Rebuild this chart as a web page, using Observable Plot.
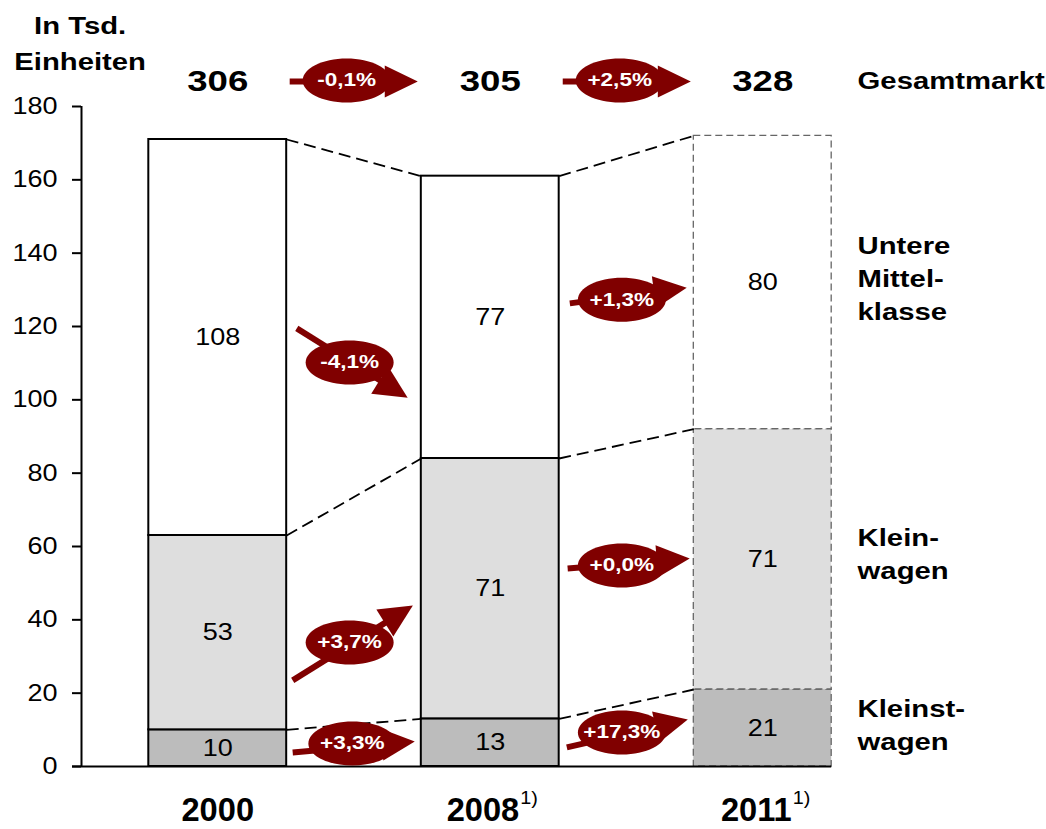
<!DOCTYPE html>
<html>
<head>
<meta charset="utf-8">
<script src="https://cdn.jsdelivr.net/npm/d3@7"></script>
<script src="https://cdn.jsdelivr.net/npm/@observablehq/plot@0.6"></script>
<style>
  body { margin: 0; background: #fff; }
  #chart svg { display: block; }
</style>
</head>
<body>
<div id="chart"></div>
<script>
// ---------------- data ----------------
const years = ["2000", "2008", "2011"];
const footnotes = ["", "1)", "1)"];
const segments = ["Kleinstwagen", "Kleinwagen", "Untere Mittelklasse"];
const segmentLabels = ["Kleinst-\nwagen", "Klein-\nwagen", "Untere\nMittel-\nklasse"];
const kleinstwagen = [10, 13, 21];
const kleinwagen = [53, 71, 71];
const untereMittelklasse = [108, 77, 80];
const gesamtmarkt = [306, 305, 328];
const yTicks = [0, 20, 40, 60, 80, 100, 120, 140, 160, 180];
const unitLabel = "In Tsd.\nEinheiten";
const totalLabel = "Gesamtmarkt";
// growth arrows (annotation): label, tail start, label centre, arrow tip (in chart units)
const growthLabels = ["-0,1%", "+2,5%", "-4,1%", "+3,7%", "+3,3%", "+1,3%", "+0,0%", "+17,3%"];
const growthTail   = [[0.264,186.8],[1.266,186.8],[0.290,119.5],[0.275,23.5],[0.275,3.8],[1.292,126.3],[1.284,54.0],[1.281,5.2]];
const growthCenter = [[0.473,187.1],[1.475,187.1],[0.484,110.2],[0.484,33.8],[0.494,6.3],[1.483,127.3],[1.483,54.8],[1.483,9.3]];
const growthTip    = [[0.734,186.8],[1.736,186.8],[0.697,100.6],[0.716,43.9],[0.723,6.8],[1.721,130.6],[1.732,56.7],[1.725,12.8]];

// ---------------- layout ----------------
const W = 1046, H = 829;
const mL = 81, mR = 147.5, mT = 106, mB = 63;
const xDomain = [-0.5, 2.5];
const yDomain = [0, 180];
const hw = 0.253;
const font = "'Liberation Sans', Arial, sans-serif";
const dark = "#800000";
const fills = {"Kleinstwagen": "#bcbcbc", "Kleinwagen": "#dedede", "Untere Mittelklasse": "#ffffff"};

const xs = Plot.scale({x: {type: "linear", domain: xDomain, range: [mL, W - mR]}});
const ys = Plot.scale({y: {type: "linear", domain: yDomain, range: [H - mB, mT]}});
const pxPerX = (W - mR - mL) / (xDomain[1] - xDomain[0]);

// stacked rows
const rows = years.flatMap((yr, i) => {
  let base = 0;
  return [kleinstwagen[i], kleinwagen[i], untereMittelklasse[i]].map((v, j) => {
    const r = {i, year: yr, segment: segments[j], value: v, y1: base, y2: base + v};
    base += v;
    return r;
  });
});

// connectors between segment tops
const connectors = [];
for (let i = 0; i < years.length - 1; i++) {
  for (let j = 0; j < segments.length; j++) {
    const a = rows.find(r => r.i === i && r.segment === segments[j]);
    const b = rows.find(r => r.i === i + 1 && r.segment === segments[j]);
    connectors.push({x1: i + hw, y1: a.y2, x2: i + 1 - hw, y2: b.y2});
  }
}

// arrows
const arrows = growthLabels.map((label, k) => ({
  label, sx: growthTail[k][0], sy: growthTail[k][1],
  cx: growthCenter[k][0], cy: growthCenter[k][1],
  tx: growthTip[k][0], ty: growthTip[k][1]
}));
const heads = [], tails = [];
arrows.forEach((a, k) => {
  const S = [xs.apply(a.sx), ys.apply(a.sy)];
  const P = [xs.apply(a.tx), ys.apply(a.ty)];
  const dx = P[0] - S[0], dy = P[1] - S[1], L = Math.hypot(dx, dy);
  const u = [dx / L, dy / L], n = [-u[1], u[0]];
  const len = 33, half = 16;
  const B = [P[0] - len * u[0], P[1] - len * u[1]];
  [P, [B[0] + half * n[0], B[1] + half * n[1]], [B[0] - half * n[0], B[1] - half * n[1]]]
    .forEach(p => heads.push({id: k, x: xs.invert(p[0]), y: ys.invert(p[1])}));
  tails.push({x1: a.sx, y1: a.sy, x2: xs.invert(B[0] + 3 * u[0]), y2: ys.invert(B[1] + 3 * u[1])});
});

const ellipseSymbol = {
  draw(ctx) {
    const rx = 44, ry = 22, k = 0.5523;
    ctx.moveTo(rx, 0);
    ctx.bezierCurveTo(rx, ry * k, rx * k, ry, 0, ry);
    ctx.bezierCurveTo(-rx * k, ry, -rx, ry * k, -rx, 0);
    ctx.bezierCurveTo(-rx, -ry * k, -rx * k, -ry, 0, -ry);
    ctx.bezierCurveTo(rx * k, -ry, rx, -ry * k, rx, 0);
    ctx.closePath();
  }
};

const solidRows = rows.filter(r => r.i < 2);
const dashedRows = rows.filter(r => r.i === 2);
const tickStart = xDomain[0] - 9 / pxPerX;

const marks = [];
for (const s of segments) {
  marks.push(Plot.rect(solidRows.filter(r => r.segment === s), {
    x1: d => d.i - hw, x2: d => d.i + hw, y1: "y1", y2: "y2",
    fill: fills[s], stroke: "#000", strokeWidth: 2
  }));
  marks.push(Plot.rect(dashedRows.filter(r => r.segment === s), {
    x1: d => d.i - hw, x2: d => d.i + hw, y1: "y1", y2: "y2",
    fill: fills[s], stroke: "#666", strokeWidth: 1.3, strokeDasharray: "7,4"
  }));
}
const yearsPlain = years.filter((d, i) => !footnotes[i]);
const yearsNoted = years.filter((d, i) => footnotes[i]);
marks.push(
  Plot.link(connectors, {x1: "x1", y1: "y1", x2: "x2", y2: "y2", stroke: "#000", strokeWidth: 1.8, strokeDasharray: "12,6"}),
  // y axis
  Plot.ruleX([xDomain[0]], {y1: yDomain[0], y2: yDomain[1], stroke: "#000", strokeWidth: 2}),
  Plot.ruleY(yTicks, {x1: tickStart, x2: xDomain[0], stroke: "#000", strokeWidth: 2}),
  Plot.ruleY([0], {x1: tickStart, x2: 2 + hw, stroke: "#000", strokeWidth: 2}),
  Plot.text(yTicks, {x: xDomain[0], y: d => d, text: d => String(d), textAnchor: "end", dx: -24, fontSize: 23.5, fill: "#000"}),
  // segment values
  Plot.text(rows, {x: "i", y: d => (d.y1 + d.y2) / 2, text: d => String(d.value), fontSize: 23.5, fill: "#000"}),
  // totals
  Plot.text(gesamtmarkt, {x: (d, i) => i, y: 186.8, text: d => String(d), fontSize: 30, fontWeight: "bold", fill: "#000"}),
  Plot.text([totalLabel], {x: 2.348, y: 186.8, text: d => d, textAnchor: "start", fontSize: 24, fontWeight: "bold", fill: "#000"}),
  Plot.text(segmentLabels, {x: 2.348, y: [12.0, 58.6, 133.6], text: d => d, textAnchor: "start", fontSize: 24, fontWeight: "bold", lineHeight: 1.375, fill: "#000"}),
  Plot.text([unitLabel], {x: -0.505, y: 198, text: d => d, fontSize: 24, fontWeight: "bold", lineHeight: 1.52, fill: "#000"}),
  // year labels
  Plot.text(yearsPlain, {x: d => years.indexOf(d), y: -12, text: d => d, fontSize: 34, fontWeight: "bold", fill: "#000"}),
  Plot.text(yearsNoted, {x: d => years.indexOf(d), y: -12, text: d => d, textAnchor: "end", dx: 29, fontSize: 34, fontWeight: "bold", fill: "#000"}),
  Plot.text(yearsNoted, {x: d => years.indexOf(d), y: -12, text: d => footnotes[years.indexOf(d)], textAnchor: "start", dx: 30, dy: -12, fontSize: 18, fill: "#000"}),
  // growth arrows
  Plot.link(tails, {x1: "x1", y1: "y1", x2: "x2", y2: "y2", stroke: dark, strokeWidth: 6}),
  Plot.line(heads, {x: "x", y: "y", z: "id", fill: dark, stroke: "none", curve: "linear-closed"}),
  Plot.dot(arrows, {x: "cx", y: "cy", symbol: ellipseSymbol, r: 10, fill: dark, stroke: "none"}),
  Plot.text(arrows, {x: "cx", y: "cy", text: "label", fill: "#fff", fontWeight: "bold", fontSize: 18.5})
);

const svg = Plot.plot({
  width: W, height: H,
  marginLeft: mL, marginRight: mR, marginTop: mT, marginBottom: mB,
  x: {type: "linear", domain: xDomain, axis: null},
  y: {type: "linear", domain: yDomain, axis: null},
  style: {fontFamily: font, background: "#fff", overflow: "visible", color: "#000"},
  marks
});

// the original text is horizontally stretched (years slightly condensed)
const stretchBySize = {"23.5": 1.15, "34": 0.96, "18": 1.1};
svg.querySelectorAll("text").forEach(t => {
  const holder = t.closest("[font-size]");
  const fs = holder ? String(parseFloat(holder.getAttribute("font-size"))) : "";
  const s = stretchBySize[fs] ?? 1.22;
  const tr = t.getAttribute("transform");
  if (tr) t.setAttribute("transform", tr + ` scale(${s},1)`);
  else {
    const x = +(t.getAttribute("x") || 0), y = +(t.getAttribute("y") || 0);
    t.setAttribute("transform", `translate(${x},${y}) scale(${s},1) translate(${-x},${-y})`);
  }
});

document.getElementById("chart").append(svg);
</script>
</body>
</html>
